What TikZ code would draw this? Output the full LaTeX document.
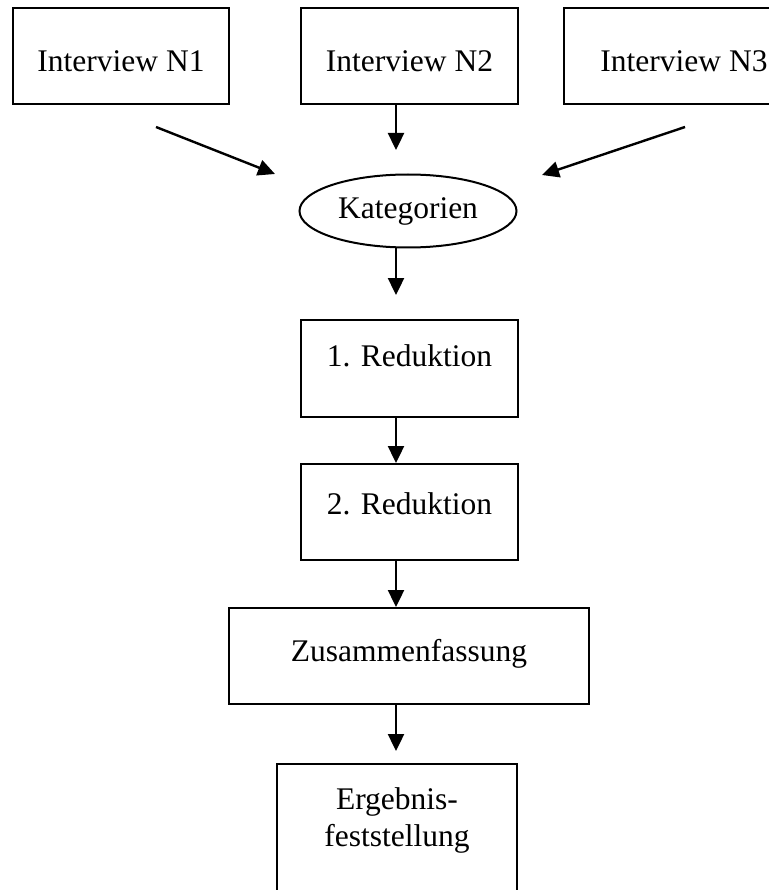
\documentclass[tikz,border=0pt]{standalone}
\usepackage{fontspec}
\setmainfont{Liberation Serif}
\usetikzlibrary{shapes.geometric}
\usetikzlibrary{arrows.meta}
\tikzstyle{box}=[draw, line width=2pt, inner sep=0pt, anchor=north west]
\tikzstyle{ebox}=[box, ellipse, anchor=center, minimum width=217pt, minimum height=73pt]
\tikzstyle{arr}=[line width=2.4pt, -{Triangle[length=17pt, width=16pt]}]

\begin{document}
\begin{tikzpicture}[x=1pt, y=-1pt, font=\fontsize{31.5}{37}\selectfont]
        \useasboundingbox (0,0) rectangle (768,890);
        \node[box, minimum width=216pt, text height=64pt, text depth=32pt] (N1) at (12, 7) {Interview N1};
        \node[box, minimum width=217pt, text height=64pt, text depth=32pt] (N2) at (300, 7) {Interview N2};
        \node[box, minimum width=240pt, text height=64pt, text depth=32pt] (N3) at (563, 7) {Interview N3};
        \node[ebox]                                                       (kat) at (408, 211) {Kategorien};
        \node[box, minimum width=217pt, text height=46pt, text depth=51pt] (red1) at (300, 319) {1. Reduktion};
        \node[box, minimum width=217pt, text height=50pt, text depth=46pt] (red2) at (300, 463) {2. Reduktion};
        \node[box, minimum width=360pt, text height=53pt, text depth=43pt] (zus) at (228, 607) {Zusammenfassung};
        \node[box, text width=240pt, align=center, text height=45pt, text depth=100pt] (erg) at (276, 763) {Ergebnis-\\feststellung};
        \coordinate (ax) at (396, 0);
        \coordinate (N1a) at (156, 127);
        \coordinate (N1b) at (275, 174);
        \coordinate (N3a) at (685, 127);
        \coordinate (N3b) at (542, 175);
        \coordinate (N2b) at (396, 150);
        \coordinate (katb) at (396, 295);
        \coordinate (zusb) at (396, 751);
        \draw[arr] (N1a) -- (N1b);
        \draw[arr] (N3a) -- (N3b);
        \draw[arr] (N2.south -| ax) -- (N2b);
        \draw[arr] (kat.south -| ax) -- (katb);
        \draw[arr] (red1.south -| ax) -- (red2.north -| ax);
        \draw[arr] (red2.south -| ax) -- (zus.north -| ax);
        \draw[arr] (zus.south -| ax) -- (zusb);
    \end{tikzpicture}
\end{document}
